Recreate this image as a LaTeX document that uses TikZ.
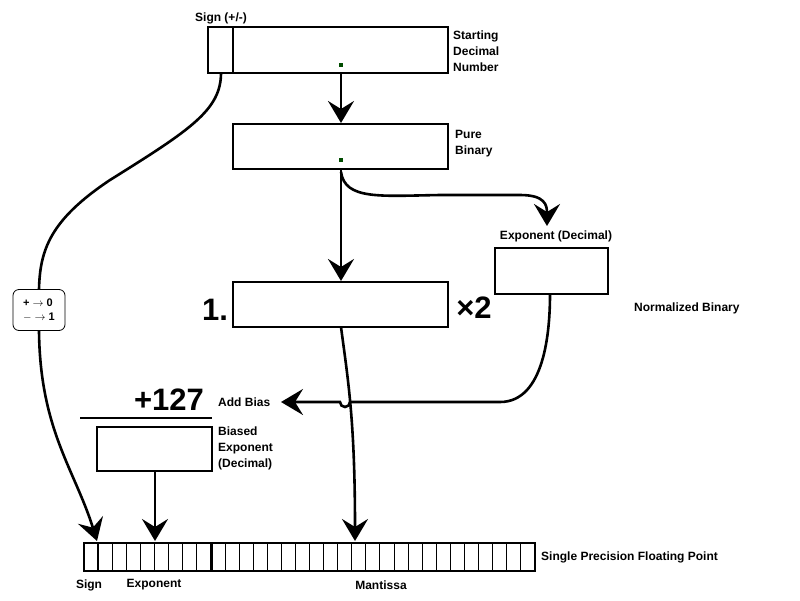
\documentclass[tikz,border=0pt]{standalone}
\usepackage{fontspec}
\setmainfont{Liberation Sans}
\usetikzlibrary{arrows.meta}
\begin{document}
\begin{tikzpicture}[x=1pt,y=-1pt,
  box/.style={draw,line width=1.8pt},
  lbl/.style={font=\bfseries\fontsize{12}{16}\selectfont,align=left,anchor=west,inner sep=0},
  big/.style={font=\bfseries\fontsize{31}{33}\selectfont,inner sep=0},
  dot/.style={fill=green!30!black,minimum size=4pt,inner sep=0,shape=rectangle},
  conn/.style={line width=2.6pt,-{Stealth[length=22pt,width=26pt,inset=8pt]}},
  line/.style={line width=2.6pt}]
\useasboundingbox (0,0) rectangle (800,600);
% top box
\draw[box] (208,27) rectangle (448,73);
\draw[box] (233,27) -- (233,73);
\coordinate (sgn) at (221,73);
\node[lbl,anchor=center] (signlbl) at (221,18) {Sign (+/-)};
\node[dot] (d1) at (341,65) {};
\node[lbl] (sdn) at (453,51) {Starting\\Decimal\\Number};
% pure binary
\draw[box] (233,124) rectangle (448,169);
\node[dot] (d2) at (341,160) {};
\node[lbl] (pb) at (455,144) {Pure\\Binary};
% normalized
\draw[box] (233,282) rectangle (448,327);
\node[big] (one) at (215,310) {1.};
\node[big] (x2) at (474,308) {×2};
\node[lbl] (nb) at (634,308) {Normalized Binary};
% exponent
\draw[box] (495,248) rectangle (608,294);
\node[lbl,anchor=center] (el) at (556,236) {Exponent (Decimal)};
% bias
\node[big] (p127) at (169,400) {+127};
\node[lbl] (ab) at (218,402) {Add Bias};
\draw[line width=1.8pt] (80,418) -- (212,418);
\draw[box] (97,427) rectangle (212,471);
\node[lbl] (be) at (218,448) {Biased\\Exponent\\(Decimal)};
% sign box
\node[draw,line width=0.8pt,rounded corners=6pt,minimum width=52pt,minimum height=41pt,align=left,inner sep=2pt,font=\bfseries\fontsize{11}{14}\selectfont] (sb) at (39,310) {+ $\rightarrow$ 0\\$-$ $\rightarrow$ 1};
% bar
\foreach \i in {0,...,31} \draw[line width=0.8pt] ({84+\i*14.09},543) rectangle ({84+(\i+1)*14.09},571);
\draw[box] (84,543) rectangle (535,571);
\draw[line width=1.4pt] (98.1,543) -- (98.1,571);
\draw[line width=1.4pt] (212,543) -- (212,571);
\node[lbl,anchor=center] (ls) at (89,585) {Sign};
\node[lbl,anchor=center] (le) at (154,585) {Exponent};
\node[lbl,anchor=center] (lm) at (381,585) {Mantissa};
\node[lbl] (sp) at (541,557) {Single Precision Floating Point};
% connectors
\draw[conn] (341,73) -- (341,123);
\draw[conn] (341,169) -- (341,281);
\draw[conn] (341,172) .. controls (345,200) and (380,196) .. (440,195) -- (520,195) .. controls (545,195) and (547,205) .. (547,226);
\draw[conn] (550,294) .. controls (550,330) and (545,402) .. (500,402) -- (350,402) arc (0:180:5) -- (281,402);
\draw[conn] (155,471) -- (155,541);
\draw[conn] (341,327) .. controls (348,380) and (355,420) .. (355,541);
\draw[line] (sgn) .. controls (221,110) and (190,130) .. (110,180) .. controls (50,220) and (40,250) .. (sb.north);
\draw[conn] (sb.south) .. controls (40,430) and (75,470) .. (97,541);
\end{tikzpicture}
\end{document}
